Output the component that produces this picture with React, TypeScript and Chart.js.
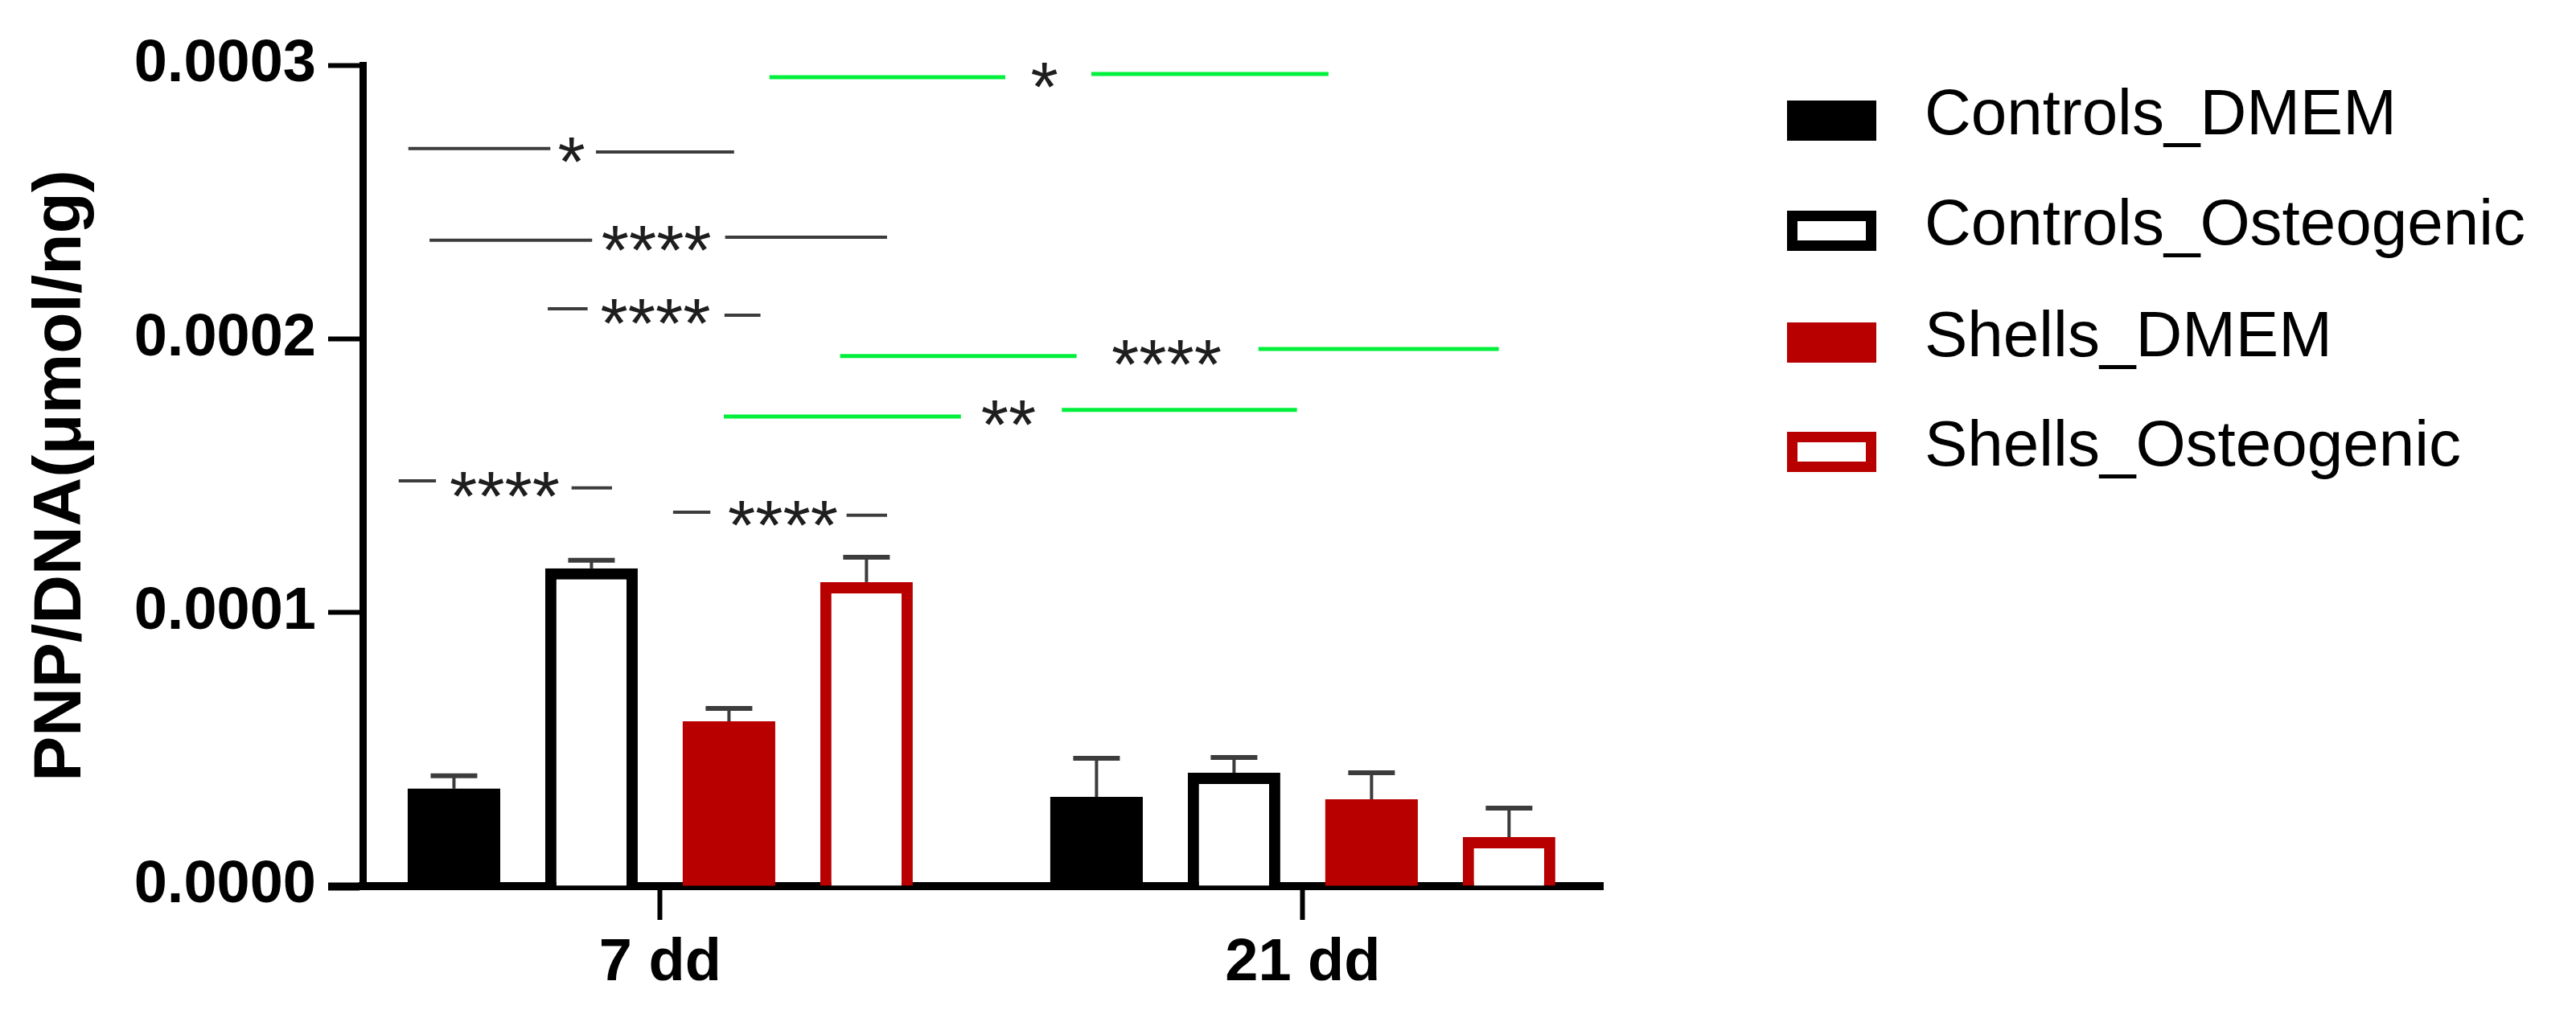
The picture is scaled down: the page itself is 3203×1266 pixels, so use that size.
import React, { useEffect, useRef } from 'react';
import { Chart, registerables } from 'chart.js';

Chart.register(...registerables);

const W = 3203;
const H = 1266;
const FONT = '"Liberation Sans", Arial, sans-serif';

// ---- data ----
const categories = ['7 dd', '21 dd'];
const seriesNames = ['Controls_DMEM', 'Controls_Osteogenic', 'Shells_DMEM', 'Shells_Osteogenic'];

const controlsDMEM = [0.0000356, 0.0000326];
const controlsDMEMErr = [0.0000047, 0.0000141];
const controlsOsteo = [0.0001161, 0.0000414];
const controlsOsteoErr = [0.0000030, 0.0000056];
const shellsDMEM = [0.0000602, 0.0000317];
const shellsDMEMErr = [0.0000047, 0.0000097];
const shellsOsteo = [0.0001111, 0.0000179];
const shellsOsteoErr = [0.0000091, 0.0000106];

const yTicks = [0, 0.0001, 0.0002, 0.0003];
const yTickLabels = ['0.0000', '0.0001', '0.0002', '0.0003'];

// significance brackets (x in category units: 0 = 7 dd, 1 = 21 dd; y in data units)
const sigTexts = ['*', '****', '****', '****', '****'];
const sigLeftStart = [-0.392, -0.359, -0.175, -0.407, 0.020];
const sigLeftEnd = [-0.171, -0.106, -0.113, -0.349, 0.078];
const sigTextX = [-0.138, -0.006, -0.0075, -0.242, 0.191];
const sigRightStart = [-0.100, 0.101, 0.100, -0.138, 0.290];
const sigRightEnd = [0.115, 0.353, 0.156, -0.075, 0.353];
const sigLeftY = [0.0002695, 0.0002360, 0.0002110, 0.0001481, 0.0001366];
const sigRightY = [0.0002683, 0.0002371, 0.0002086, 0.0001455, 0.0001355];

const sigGreenTexts = ['*', '****', '**'];
const sigGreenLeftStart = [0.170, 0.280, 0.099];
const sigGreenLeftEnd = [0.537, 0.648, 0.468];
const sigGreenTextX = [0.598, 0.788, 0.542];
const sigGreenRightStart = [0.671, 0.931, 0.625];
const sigGreenRightEnd = [1.040, 1.305, 0.991];
const sigGreenLeftY = [0.0002956, 0.0001937, 0.0001716];
const sigGreenRightY = [0.0002968, 0.0001963, 0.0001740];

const seriesValues = [controlsDMEM, controlsOsteo, shellsDMEM, shellsOsteo];
const seriesErrors = [controlsDMEMErr, controlsOsteoErr, shellsDMEMErr, shellsOsteoErr];

// ---- styles ----
const RED = '#b80000';
const fills = ['#000000', '#ffffff', RED, '#ffffff'];
const borders = ['#000000', '#000000', RED, RED];
const borderWidths = [0, 14, 0, 14];

const overlayPlugin = {
  id: 'overlay',
  afterDatasetsDraw(chart: any) {
    const { ctx } = chart;
    const xs = chart.scales.x;
    const ys = chart.scales.y;
    ctx.save();
    // error bars
    ctx.strokeStyle = '#3c3c3c';
    ctx.lineCap = 'butt';
    chart.data.datasets.forEach((ds: any, di: number) => {
      const meta = chart.getDatasetMeta(di);
      meta.data.forEach((bar: any, i: number) => {
        const v = seriesValues[di][i];
        const e = seriesErrors[di][i];
        const top = ys.getPixelForValue(v + e);
        const base = ys.getPixelForValue(v);
        ctx.lineWidth = 4;
        ctx.beginPath();
        ctx.moveTo(bar.x, base);
        ctx.lineTo(bar.x, top);
        ctx.stroke();
        ctx.lineWidth = 6;
        ctx.beginPath();
        ctx.moveTo(bar.x - 29, top);
        ctx.lineTo(bar.x + 29, top);
        ctx.stroke();
      });
    });

    const drawSig = (texts: string[], ls: number[], le: number[], tx: number[], rs: number[], re: number[], ly: number[], ry: number[], color: string, lw: number) => {
      texts.forEach((t, k) => {
        const yl = ys.getPixelForValue(ly[k]);
        const yr = ys.getPixelForValue(ry[k]);
        ctx.strokeStyle = color;
        ctx.lineWidth = lw;
        ctx.beginPath();
        ctx.moveTo(xs.getPixelForValue(ls[k]), yl);
        ctx.lineTo(xs.getPixelForValue(le[k]), yl);
        ctx.stroke();
        ctx.beginPath();
        ctx.moveTo(xs.getPixelForValue(rs[k]), yr);
        ctx.lineTo(xs.getPixelForValue(re[k]), yr);
        ctx.stroke();
        ctx.font = `88px ${FONT}`;
        ctx.fillStyle = '#1e1e1e';
        ctx.textAlign = 'center';
        ctx.textBaseline = 'alphabetic';
        const m = ctx.measureText(t);
        const A = m.actualBoundingBoxAscent;
        const D = m.actualBoundingBoxDescent;
        const yc = (yl + yr) / 2;
        ctx.fillText(t, xs.getPixelForValue(tx[k]), yc + (A - D) / 2);
      });
    };
    drawSig(sigTexts, sigLeftStart, sigLeftEnd, sigTextX, sigRightStart, sigRightEnd, sigLeftY, sigRightY, '#3c3c3c', 4);
    drawSig(sigGreenTexts, sigGreenLeftStart, sigGreenLeftEnd, sigGreenTextX, sigGreenRightStart, sigGreenRightEnd, sigGreenLeftY, sigGreenRightY, '#00f03c', 5);
    ctx.restore();
  },
  afterDraw(chart: any) {
    const { ctx } = chart;
    ctx.save();
    const boxX = 2222;
    const boxW = 111;
    const boxH = 50;
    const rowY = [150, 287, 426, 562];
    chart.data.datasets.forEach((ds: any, i: number) => {
      const cy = rowY[i];
      const bw = ds.borderWidth;
      if (bw > 0) {
        ctx.fillStyle = ds.borderColor;
        ctx.fillRect(boxX, cy - boxH / 2, boxW, boxH);
        ctx.fillStyle = ds.backgroundColor;
        ctx.fillRect(boxX + 13, cy - boxH / 2 + 13, boxW - 26, boxH - 26);
      } else {
        ctx.fillStyle = ds.backgroundColor;
        ctx.fillRect(boxX, cy - boxH / 2, boxW, boxH);
      }
      ctx.fillStyle = '#000';
      ctx.font = `80px ${FONT}`;
      ctx.textAlign = 'left';
      ctx.textBaseline = 'middle';
      ctx.fillText(ds.label, 2393, cy - 5);
    });
    ctx.restore();
  },
};

export default function App() {
  const ref = useRef<HTMLCanvasElement>(null);
  useEffect(() => {
    const canvas = ref.current;
    if (!canvas) return;
    const datasets = seriesNames.map((name, s) => ({
      label: name,
      data: seriesValues[s].map((v, i) => ({ x: i, y: v })),
      backgroundColor: fills[s],
      borderColor: borders[s],
      borderWidth: borderWidths[s],
      borderSkipped: 'start',
      categoryPercentage: 0.856,
      barPercentage: 0.673,
    }));
    const chart = new Chart(canvas, {
      type: 'bar',
      data: { datasets } as any,
      options: {
        responsive: false,
        animation: false,
        devicePixelRatio: 1,
        layout: { padding: { left: 0, top: 81, right: 1210, bottom: 0 } },
        plugins: { legend: { display: false }, tooltip: { enabled: false } },
        scales: {
          x: {
            type: 'linear',
            min: -0.463,
            max: 1.467,
            offset: false,
            afterBuildTicks: (s: any) => {
              s.ticks = categories.map((_, i) => ({ value: i }));
            },
            afterFit: (s: any) => {
              s.height = 164;
            },
            grid: {
              display: true,
              drawOnChartArea: false,
              drawTicks: true,
              tickLength: 42,
              tickWidth: 6,
              tickColor: '#000',
              offset: false,
            },
            border: { display: true, color: '#000', width: 10 },
            ticks: {
              autoSkip: false,
              maxRotation: 0,
              padding: 10,
              color: '#000',
              font: { family: FONT, size: 74, weight: 'bold' },
              callback: (_v: any, i: number) => categories[i],
            },
          },
          y: {
            type: 'linear',
            min: 0,
            max: 0.0003,
            afterBuildTicks: (s: any) => {
              s.ticks = yTicks.map((v) => ({ value: v }));
            },
            afterFit: (s: any) => {
              s.width = 451;
            },
            grid: {
              display: true,
              drawOnChartArea: false,
              drawTicks: true,
              tickLength: 43,
              tickWidth: (c: any) => (c.tick && c.tick.value === 0 ? 10 : 6),
              tickColor: '#000',
            },
            border: { display: true, color: '#000', width: 9 },
            ticks: {
              padding: 15,
              color: '#000',
              font: { family: FONT, size: 74, weight: 'bold' },
              callback: (_v: any, i: number) => yTickLabels[i],
            },
            title: {
              display: true,
              text: 'PNP/DNA(μmol/ng)',
              color: '#000',
              font: { family: FONT, size: 84, weight: 'bold' },
              padding: { top: 26, bottom: 0 },
            },
          },
        },
      } as any,
      plugins: [overlayPlugin],
    });
    return () => chart.destroy();
  }, []);
  return (
    <div style={{ position: 'fixed', left: 0, top: 0, width: W, height: H, background: '#fff' }}>
      <canvas ref={ref} width={W} height={H} style={{ width: W, height: H, display: 'block' }} />
    </div>
  );
}
